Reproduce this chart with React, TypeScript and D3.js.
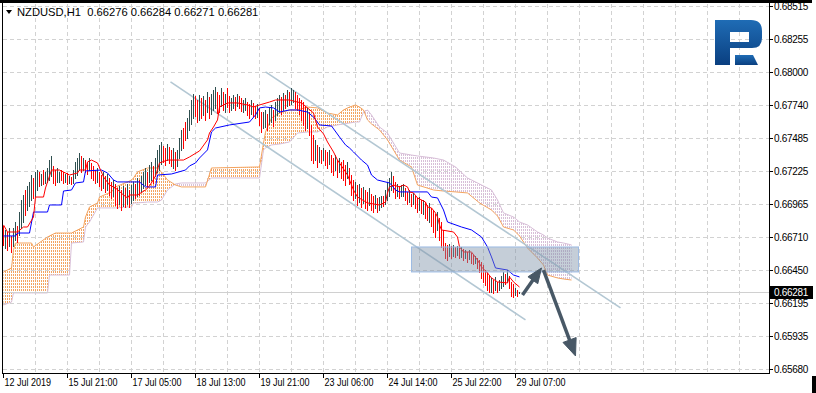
import React from "react";
import * as d3 from "d3";

// NZDUSD H1, prices kept in points (1 point = 0.00001)
const symbol = "NZDUSD,H1";
const lastQuote = ["0.66276", "0.66284", "0.66271", "0.66281"];
const lastPrice = 66281;

const priceTicks = [
  "0.68515", "0.68255", "0.68000", "0.67740", "0.67485", "0.67225",
  "0.66965", "0.66710", "0.66450", "0.66195", "0.65935", "0.65680",
];
const timeBars = [0, 32, 64, 96, 128, 160, 192, 224, 256];
const timeLabels = [
  "12 Jul 2019", "15 Jul 21:00", "17 Jul 05:00", "18 Jul 13:00", "19 Jul 21:00",
  "23 Jul 06:00", "24 Jul 14:00", "25 Jul 22:00", "29 Jul 07:00",
];

const barHigh = [
  66797, 66766, 66750, 66781, 66719, 66781, 66828, 66797, 66906, 67000,
  67039, 67078, 67109, 67141, 67195, 67172, 67219, 67234, 67219, 67203,
  67234, 67219, 67250, 67312, 67344, 67266, 67234, 67250, 67219, 67234,
  67219, 67203, 67211, 67187, 67180, 67234, 67297, 67328, 67367, 67344,
  67328, 67312, 67297, 67328, 67289, 67266, 67234, 67250, 67219, 67195,
  67219, 67187, 67203, 67172, 67141, 67156, 67125, 67094, 67109, 67078,
  67109, 67094, 67125, 67078, 67117, 67141, 67125, 67172, 67156, 67187,
  67219, 67250, 67219, 67273, 67297, 67266, 67328, 67391, 67430, 67453,
  67422, 67406, 67437, 67414, 67391, 67406, 67375, 67391, 67484, 67547,
  67562, 67609, 67640, 67703, 67781, 67828, 67812, 67781, 67820, 67797,
  67812, 67781, 67843, 67804, 67828, 67859, 67882, 67843, 67820, 67875,
  67843, 67828, 67875, 67812, 67797, 67820, 67804, 67828, 67812, 67797,
  67781, 67797, 67765, 67750, 67781, 67758, 67734, 67750, 67719, 67687,
  67687, 67703, 67672, 67719, 67742, 67703, 67765, 67797, 67820, 67804,
  67836, 67820, 67859, 67843, 67875, 67859, 67843, 67820, 67797, 67781,
  67765, 67734, 67719, 67687, 67586, 67508, 67469, 67430, 67414, 67391,
  67406, 67391, 67375, 67391, 67351, 67328, 67351, 67312, 67328, 67297,
  67312, 67273, 67297, 67250, 67195, 67156, 67141, 67117, 67125, 67094,
  67102, 67078, 67063, 67094, 67047, 67031, 67039, 67016, 67023, 67031,
  67031, 67078, 67141, 67172, 67219, 67187, 67141, 67125, 67109, 67117,
  67125, 67094, 67063, 67078, 67047, 67055, 67031, 67016, 67023, 67000,
  67000, 66984, 66961, 66977, 66938, 66922, 66891, 66906, 66859, 66828,
  66766, 66664, 66649, 66656, 66641, 66649, 66633, 66641, 66625, 66633,
  66617, 66610, 66594, 66610, 66586, 66570, 66563, 66547, 66531, 66516,
  66492, 66453, 66438, 66406, 66391, 66375, 66399, 66360, 66375, 66406,
  66438, 66422, 66453, 66406, 66360, 66344, 66313, 66297, 66284,
];
const barLow = [
  66649, 66625, 66610, 66641, 66594, 66641, 66688, 66672, 66727, 66781,
  66828, 66883, 66922, 66953, 67000, 67016, 67031, 67078, 67109, 67117,
  67125, 67133, 67141, 67156, 67187, 67133, 67117, 67141, 67141, 67156,
  67133, 67141, 67125, 67133, 67125, 67133, 67172, 67195, 67234, 67219,
  67234, 67219, 67203, 67234, 67172, 67156, 67133, 67141, 67109, 67078,
  67094, 67063, 67078, 67039, 67016, 67031, 66961, 66938, 66969, 66922,
  66953, 66945, 66969, 66945, 66977, 67000, 67016, 67031, 67039, 67063,
  67094, 67117, 67109, 67141, 67156, 67133, 67187, 67219, 67234, 67281,
  67297, 67273, 67312, 67289, 67266, 67250, 67234, 67266, 67328, 67391,
  67406, 67469, 67484, 67547, 67594, 67640, 67656, 67609, 67625, 67640,
  67664, 67625, 67687, 67640, 67672, 67703, 67719, 67679, 67687, 67734,
  67703, 67687, 67726, 67687, 67703, 67719, 67703, 67734, 67719, 67695,
  67687, 67703, 67664, 67640, 67672, 67656, 67640, 67648, 67586, 67531,
  67562, 67570, 67547, 67594, 67609, 67578, 67625, 67664, 67687, 67672,
  67703, 67719, 67734, 67742, 67750, 67765, 67719, 67703, 67672, 67625,
  67586, 67547, 67562, 67508, 67312, 67289, 67312, 67258, 67297, 67289,
  67312, 67273, 67250, 67281, 67219, 67195, 67234, 67180, 67219, 67172,
  67156, 67117, 67172, 67125, 67039, 67000, 67016, 66961, 66984, 66945,
  66977, 66938, 66922, 66961, 66922, 66906, 66938, 66906, 66922, 66945,
  66953, 66969, 67000, 67031, 67078, 67063, 67016, 67031, 67016, 67031,
  67031, 67000, 66969, 66984, 66953, 66969, 66938, 66906, 66922, 66899,
  66891, 66859, 66844, 66828, 66797, 66750, 66711, 66766, 66688, 66633,
  66610, 66547, 66531, 66563, 66547, 66563, 66555, 66570, 66547, 66555,
  66531, 66547, 66516, 66539, 66508, 66500, 66508, 66469, 66438, 66391,
  66360, 66336, 66297, 66282, 66282, 66274, 66297, 66282, 66297, 66313,
  66328, 66344, 66360, 66313, 66250, 66242, 66258, 66250, 66271,
];
// u = bull bar (close > open), d = bear bar
const barDir = [
  "dududuuduu", "uduuuduudu", "duuuudduud", "dududuuuud", "uddudddudd",
  "ududduddud", "ududuududu", "uuduuduuuu", "ddudduduuu", "dduuuuddud",
  "ududuuuddu", "dudduududd", "uudduddudd", "uuduuduuud", "ududuudddd",
  "ddudddudud", "udduddudud", "ddudddudud", "uddudduduu", "duuuuddudu",
  "uddududdud", "uddudddudd", "dddudududu", "dududduddd", "ddddududuu",
  "ududddudu",
].join("");

// Ichimoku: Tenkan-sen / Kijun-sen vertices [bar index], [points]
const tenkanBar = [
  0, 2, 7, 10, 12, 15, 16, 20, 21, 24, 28, 33, 37, 38, 41, 42, 44, 47, 50, 53,
  56, 60, 62, 63, 67, 71, 73, 76, 78, 82, 90, 93, 98, 102, 103, 105, 107, 108, 112, 117,
  122, 125, 128, 133, 136, 143, 147, 149, 152, 155, 157, 160, 162, 165, 167, 170, 172, 175, 177, 182,
  188, 191, 192, 193, 195, 198, 200, 202, 203, 205, 207, 211, 212, 214, 216, 217, 218, 219, 225, 227,
  228, 230, 234, 237, 239, 242, 244, 247, 252, 253, 255, 258,
];
const tenkanPts = [
  66805, 66750, 66750, 66789, 66789, 66867, 67023, 67023, 67094, 67234,
  67234, 67195, 67211, 67234, 67234, 67297, 67312, 67289, 67180, 67117,
  67094, 67039, 67016, 67039, 67039, 67078, 67109, 67187, 67289, 67312,
  67312, 67336, 67383, 67469, 67523, 67570, 67625, 67726, 67758, 67758,
  67742, 67726, 67742, 67765, 67781, 67781, 67765, 67758, 67719, 67679,
  67570, 67516, 67453, 67375, 67312, 67242, 67195, 67078, 67023, 66977,
  66961, 66984, 67055, 67102, 67117, 67102, 67117, 67102, 67063, 67055,
  67016, 66984, 66945, 66938, 66899, 66867, 66805, 66766, 66750, 66711,
  66633, 66594, 66594, 66531, 66477, 66430, 66391, 66360, 66352, 66399,
  66360, 66320,
];
const kijunBar = [
  0, 6, 7, 13, 15, 22, 23, 29, 30, 34, 36, 40, 41, 49, 52, 55, 57, 68, 71, 76,
  77, 84, 91, 93, 96, 98, 102, 104, 106, 113, 123, 126, 128, 131, 135, 138, 143, 147, 152, 155,
  158, 164, 168, 171, 173, 175, 179, 182, 183, 184, 187, 193, 194, 196, 198, 212, 214, 217, 220, 222,
  229, 234, 239, 242, 244, 246, 252, 255, 258,
];
const kijunPts = [
  66719, 66719, 66742, 66742, 66906, 66906, 66961, 66961, 67070, 67078,
  67133, 67141, 67227, 67234, 67211, 67156, 67141, 67141, 67102, 67102,
  67195, 67203, 67234, 67266, 67289, 67328, 67391, 67531, 67562, 67586,
  67609, 67664, 67719, 67726, 67719, 67687, 67703, 67703, 67687, 67648,
  67586, 67578, 67492, 67430, 67406, 67375, 67312, 67273, 67234, 67195,
  67156, 67133, 67117, 67078, 67063, 67063, 67023, 67016, 66922, 66828,
  66789, 66766, 66711, 66633, 66555, 66469, 66453, 66414, 66399,
];
// Senkou span A / B (already shifted 26 bars forward)
const cloudBar = [
  0, 4, 5, 6, 14, 15, 22, 23, 26, 33, 34, 40, 41, 43, 47, 48, 54, 56, 62, 64,
  65, 67, 72, 77, 79, 82, 86, 89, 101, 104, 128, 130, 131, 134, 138, 143, 147, 152, 157, 162,
  167, 170, 173, 176, 178, 180, 182, 184, 188, 192, 195, 198, 204, 207, 215, 220, 226, 232, 238, 244,
  247, 250, 255, 258, 262, 267, 270, 272, 277, 280, 284,
];
const spanA = [
  66438, 66469, 66610, 66664, 66664, 66633, 66711, 66719, 66742, 66742,
  66742, 66789, 66867, 66945, 66977, 67023, 67063, 67102, 67141, 67156,
  67172, 67219, 67250, 67250, 67219, 67156, 67117, 67102, 67102, 67250,
  67258, 67445, 67531, 67640, 67679, 67703, 67703, 67726, 67719, 67679,
  67664, 67703, 67726, 67742, 67726, 67703, 67625, 67594, 67547, 67469,
  67391, 67312, 67258, 67117, 67078, 67070, 67063, 67055, 66977, 66922,
  66875, 66789, 66766, 66719, 66625, 66547, 66492, 66414, 66391, 66383,
  66375,
];
const spanB = [
  66180, 66203, 66274, 66274, 66274, 66274, 66274, 66414, 66414, 66414,
  66664, 66672, 66789, 66828, 66938, 66938, 66938, 66938, 66945, 66945,
  66977, 66977, 66984, 66984, 67000, 67078, 67125, 67133, 67133, 67172,
  67172, 67391, 67406, 67430, 67437, 67453, 67523, 67531, 67531, 67570,
  67586, 67594, 67601, 67609, 67609, 67687, 67703, 67664, 67570, 67523,
  67445, 67367, 67351, 67344, 67328, 67312, 67258, 67172, 67125, 67078,
  67000, 66899, 66867, 66828, 66805, 66750, 66727, 66703, 66672, 66664,
  66649,
];

// hand-drawn objects, in [bar, points]
const channelUpper = [[131, 68000], [308.5, 66157]];
const channelLower = [[83.5, 67922], [261, 66063]];
const zoneBars = [204, 287.5];
const zonePts = [66633, 66438];
const arrowUp = [[259.5, 66258], [269, 66469]];
const arrowDown = [[270, 66453], [286, 65782]];

const W = 816;
const H = 393;
const plotL = 2;
const plotR = 769;
const plotT = 3;
const plotB = 373;

const x = d3.scaleLinear().domain([0, 383]).range([3.5, 769.5]); // 2px per H1 bar
const y = d3.scaleLinear().domain([65680, 68515]).range([369, 6]);

const bull = "#2F4F4F";
const bear = "#FF0000";

function arrowHead(p0: number[], p1: number[], len = 15, half = 6) {
  const x0 = x(p0[0]), y0 = y(p0[1]), x1 = x(p1[0]), y1 = y(p1[1]);
  const a = Math.atan2(y1 - y0, x1 - x0);
  const bx = x1 - len * Math.cos(a), by = y1 - len * Math.sin(a);
  const nx = -Math.sin(a) * half, ny = Math.cos(a) * half;
  return {
    shaft: [x0, y0, bx + 2 * Math.cos(a), by + 2 * Math.sin(a)],
    head: `M${x1},${y1}L${bx + nx},${by + ny}L${bx - nx},${by - ny}Z`,
  };
}

export default function App() {
  const pts = (bars: number[], vals: number[]) => bars.map((b, i) => [b, vals[i]] as [number, number]);
  const line = d3.line<[number, number]>().x((d) => x(d[0])).y((d) => y(d[1]));

  const cloud = cloudBar.map((b, i) => ({ b, a: spanA[i], s: spanB[i] }));
  const upKumo = d3.area<any>().x((d) => x(d.b)).y0((d) => y(d.s)).y1((d) => y(Math.max(d.a, d.s)));
  const downKumo = d3.area<any>().x((d) => x(d.b)).y0((d) => y(d.a)).y1((d) => y(Math.max(d.a, d.s)));
  const hatchBars = d3.range(0, cloudBar[cloudBar.length - 1] + 1);

  const a1 = arrowHead(arrowUp[0], arrowUp[1]);
  const a2 = arrowHead(arrowDown[0], arrowDown[1], 17, 7);
  const lastY = Math.round(y(lastPrice)) + 0.5;

  const font = "'Liberation Sans', Arial, sans-serif";

  return (
    <div style={{ position: "fixed", left: 0, top: 0 }}>
      <svg width={W} height={H} style={{ display: "block", background: "#fff" }}>
        <defs>
          <clipPath id="kumoUpClip">
            <path d={upKumo(cloud) || undefined} />
          </clipPath>
          <clipPath id="kumoDownClip">
            <path d={downKumo(cloud) || undefined} />
          </clipPath>
          <clipPath id="plot">
            <rect x={plotL + 1} y={plotT + 1} width={plotR - plotL - 1} height={plotB - plotT - 1} />
          </clipPath>
          <linearGradient id="logo" x1="0" y1="0" x2="0" y2="1">
            <stop offset="0%" stopColor="#1f6cb5" />
            <stop offset="100%" stopColor="#0a3f80" />
          </linearGradient>
        </defs>

        {/* grid */}
        <g stroke="#d2d2d2" strokeDasharray="4,3" shapeRendering="crispEdges">
          {d3.range(1, 24).map((k) => (
            <line key={`gx${k}`} x1={x(k * 16)} x2={x(k * 16)} y1={plotT + 1} y2={plotB} />
          ))}
          {priceTicks.map((t) => {
            const yy = Math.round(y(+t * 1e5)) + 0.5;
            return <line key={`gy${t}`} x1={plotL + 1} x2={plotR} y1={yy} y2={yy} />;
          })}
        </g>

        <g clipPath="url(#plot)">
          {/* Kumo hatching: dotted verticals, one per bar */}
          <g clipPath="url(#kumoUpClip)" stroke="#F4A460" strokeDasharray="2,1" shapeRendering="crispEdges">
            {hatchBars.map((b) => (
              <line key={`ku${b}`} x1={x(b)} x2={x(b)} y1={plotT + 1} y2={plotB} />
            ))}
          </g>
          <g clipPath="url(#kumoDownClip)" stroke="#D8BFD8" strokeDasharray="2,1" shapeRendering="crispEdges">
            {hatchBars.map((b) => (
              <line key={`kd${b}`} x1={x(b)} x2={x(b)} y1={plotT + 1} y2={plotB} />
            ))}
          </g>
          <path d={line(pts(cloudBar, spanB)) || undefined} fill="none" stroke="#D8BFD8" strokeWidth={1} />
          <path d={line(pts(cloudBar, spanA)) || undefined} fill="none" stroke="#F4A460" strokeWidth={1} />

          {/* current price line */}
          <line x1={plotL + 1} x2={plotR} y1={lastY} y2={lastY} stroke="#d0d0d0" shapeRendering="crispEdges" />

          {/* channel */}
          {[channelUpper, channelLower].map((c, i) => (
            <line key={`ch${i}`} x1={x(c[0][0])} y1={y(c[0][1])} x2={x(c[1][0])} y2={y(c[1][1])}
              stroke="#b3c7d3" strokeWidth={1.6} />
          ))}

          {/* bars */}
          <g shapeRendering="crispEdges">
            {barHigh.map((h, i) => (
              <line key={`b${i}`} x1={x(i)} x2={x(i)} y1={Math.round(y(h))} y2={Math.round(y(barLow[i])) + 1}
                stroke={barDir[i] === "u" ? bull : bear} strokeWidth={1} />
            ))}
          </g>

          {/* Tenkan / Kijun */}
          <path d={line(pts(kijunBar, kijunPts)) || undefined} fill="none" stroke="#0000FF" strokeWidth={1} />
          <path d={line(pts(tenkanBar, tenkanPts)) || undefined} fill="none" stroke="#FF0000" strokeWidth={1} />

          {/* target zone */}
          <rect x={x(zoneBars[0])} y={y(zonePts[0])} width={x(zoneBars[1]) - x(zoneBars[0])}
            height={y(zonePts[1]) - y(zonePts[0])} fill="#7f93a8" fillOpacity={0.45}
            stroke="#9dbbe3" strokeWidth={1} />

          {/* arrows */}
          {[a1, a2].map((a, i) => (
            <g key={`ar${i}`} fill="#485866" stroke="#485866">
              <line x1={a.shaft[0]} y1={a.shaft[1]} x2={a.shaft[2]} y2={a.shaft[3]} strokeWidth={3.5} />
              <path d={a.head} strokeWidth={1} strokeLinejoin="round" />
            </g>
          ))}
        </g>

        {/* logo */}
        <g fill="url(#logo)">
          <path fillRule="evenodd"
            d="M715,20 H751 Q762,20 762,31 V38 Q762,48 752,48 H730 V65 H715 Z M730,32 V42 H749 V32 Z" />
          <path d="M735,55 H753 L758,65 H735 Z" />
        </g>

        {/* frame */}
        <rect x={0} y={0} width={812} height={3} fill="#000" />
        <rect x={812} y={376} width={4} height={17} fill="#000" />
        <g stroke="#000" strokeWidth={1} shapeRendering="crispEdges" fill="none">
          <line x1={plotL + 0.5} x2={plotL + 0.5} y1={plotT} y2={plotB + 0.5} />
          <line x1={plotL} x2={plotR + 0.5} y1={plotB + 0.5} y2={plotB + 0.5} />
          <line x1={plotR + 0.5} x2={plotR + 0.5} y1={plotT} y2={plotB + 0.5} />
        </g>

        {/* price axis */}
        <g fontFamily={font} fontSize={10} fill="#000">
          {priceTicks.map((t) => {
            const yy = Math.round(y(+t * 1e5)) + 0.5;
            return (
              <g key={`pt${t}`}>
                <line x1={plotR + 1} x2={plotR + 4} y1={yy} y2={yy} stroke="#000" shapeRendering="crispEdges" />
                <text x={774} y={yy + 3.5} letterSpacing={-0.3}>{t}</text>
              </g>
            );
          })}
          <rect x={plotR + 1} y={lastY - 6.5} width={43} height={13} fill="#000" />
          <text x={774} y={lastY + 3.5} fill="#fff" letterSpacing={-0.3}>{(lastPrice / 1e5).toFixed(5)}</text>
        </g>

        {/* time axis */}
        <g fontFamily={font} fontSize={11} fill="#000">
          {timeBars.map((b, i) => (
            <g key={`tt${b}`}>
              <line x1={x(b)} x2={x(b)} y1={plotB + 1} y2={plotB + 5} stroke="#000" shapeRendering="crispEdges" />
              <text transform={`translate(${x(b) + 1},386) scale(0.82,1)`}>{timeLabels[i]}</text>
            </g>
          ))}
        </g>

        {/* title */}
        <path d="M6,10 L12,10 L9,14 Z" fill="#000" />
        <text x={17} y={16} fontFamily={font} fontSize={11.2} fill="#000" style={{ whiteSpace: "pre" }}>
          {`${symbol}  ${lastQuote.join(" ")}`}
        </text>
      </svg>
    </div>
  );
}
